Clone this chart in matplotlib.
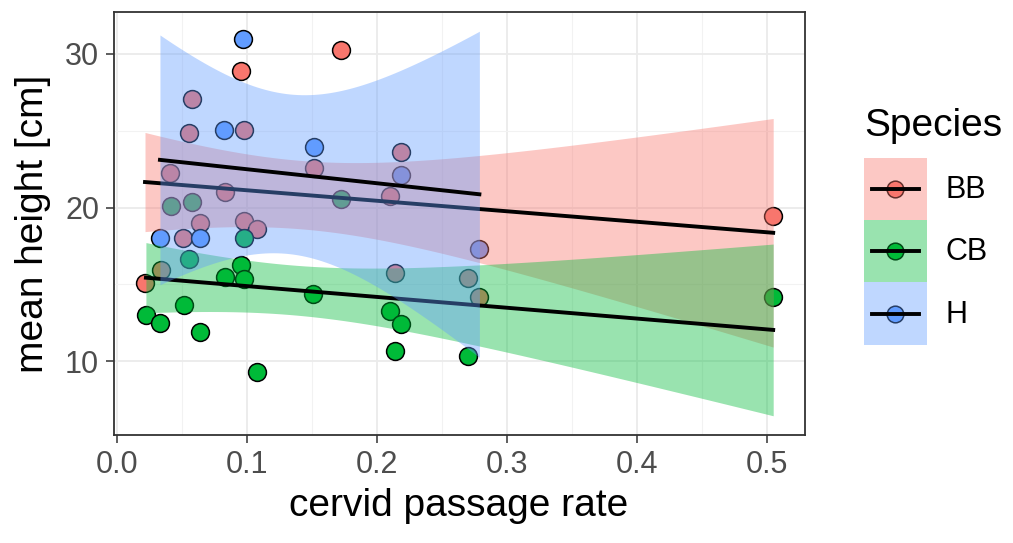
import numpy as np
import matplotlib.pyplot as plt
from matplotlib.patches import Patch, Rectangle
from matplotlib.lines import Line2D
from matplotlib.ticker import MultipleLocator, FormatStrFormatter

plt.rcParams['font.family'] = ['Liberation Sans', 'DejaVu Sans']

# data
species = ['BB', 'CB', 'H']
colors = ['#F8766D', '#00BA38', '#619CFF']

bb_x = [0.0954, 0.1725, 0.0582, 0.0559, 0.0979, 0.0410, 0.0833, 0.0640, 0.0979, 0.1077,
        0.0512, 0.0338, 0.0218, 0.1520, 0.2185, 0.2102, 0.2140, 0.2705, 0.2790, 0.5050]
bb_y = [28.86, 30.24, 27.08, 24.88, 25.05, 22.26, 21.00, 18.97, 19.14, 18.60,
        18.00, 15.95, 15.10, 22.58, 23.60, 20.75, 15.76, 15.40, 14.20, 19.46]

cb_x = [0.0415, 0.0582, 0.0980, 0.0559, 0.0833, 0.0954, 0.0980, 0.0520, 0.0225, 0.0333,
        0.0640, 0.1077, 0.1725, 0.1510, 0.2100, 0.2187, 0.2140, 0.2705, 0.5050]
cb_y = [20.10, 20.36, 18.00, 16.66, 15.48, 16.27, 15.33, 13.65, 13.00, 12.47,
        11.93, 9.30, 20.54, 14.34, 13.26, 12.42, 10.68, 10.32, 14.17]

h_x = [0.0974, 0.0825, 0.0333, 0.0640, 0.1518, 0.2185, 0.2790]
h_y = [30.95, 25.05, 18.00, 18.00, 23.97, 22.15, 17.30]

# 95% t quantiles for df = n - 2
t_crit = [2.101, 2.110, 2.571]

xs_all = [bb_x, cb_x, h_x]
ys_all = [bb_y, cb_y, h_y]


def lm_fit(x, y, t, n_out=80):
    x = np.asarray(x)
    y = np.asarray(y)
    n = len(x)
    X = np.column_stack([np.ones(n), x])
    beta = np.linalg.lstsq(X, y, rcond=None)[0]
    resid = y - X @ beta
    s2 = resid @ resid / (n - 2)
    cov = s2 * np.linalg.inv(X.T @ X)
    xs = np.linspace(x.min(), x.max(), n_out)
    Xs = np.column_stack([np.ones(n_out), xs])
    fit = Xs @ beta
    se = np.sqrt(np.einsum('ij,jk,ik->i', Xs, cov, Xs))
    return xs, fit, fit - t * se, fit + t * se


class SmoothKey:
    # ggplot-like key: point, then filled ribbon box, then black line
    def legend_artist(self, legend, orig_handle, fontsize, handlebox):
        c = orig_handle.get_facecolor()[:3]
        x0, y0 = -handlebox.xdescent, -handlebox.ydescent
        w, h = handlebox.width, handlebox.height
        tr = handlebox.get_transform()
        pt = Line2D([x0 + w / 2], [y0 + h / 2], marker='o', linestyle='none',
                    markersize=12, markerfacecolor=c, markeredgecolor='black',
                    markeredgewidth=1.1, transform=tr)
        box = Rectangle((x0, y0), w, h, facecolor=c, alpha=0.4,
                        edgecolor='none', transform=tr)
        ln = Line2D([x0 + 0.13 * w, x0 + 0.87 * w], [y0 + h / 2] * 2,
                    color='black', linewidth=2.8, transform=tr)
        handlebox.add_artist(pt)
        handlebox.add_artist(box)
        handlebox.add_artist(ln)
        return box


fig = plt.figure(figsize=(10.13, 5.43), dpi=100)
ax = fig.add_axes([113.6 / 1013, 108 / 543, 691 / 1013, 423 / 543])

# points first, smooths drawn over them (like ggplot layer order)
for x, y, c in zip(xs_all, ys_all, colors):
    ax.scatter(x, y, s=165, color=c, edgecolor='black', linewidth=1.1, zorder=3)

fits = []
for i, (x, y) in enumerate(zip(xs_all, ys_all)):
    xs, fit, lo, hi = lm_fit(x, y, t_crit[i])
    fits.append((lo, hi))
    ax.fill_between(xs, lo, hi, color=colors[i], alpha=0.4, linewidth=0, zorder=4 + 2 * i)
    ax.plot(xs, fit, color='black', linewidth=2.8, zorder=5 + 2 * i)

# limits with 5% expansion
allx = np.concatenate([np.asarray(v) for v in xs_all])
ally = np.concatenate([np.asarray(v) for v in ys_all] + [np.concatenate(f) for f in fits])
dx = allx.max() - allx.min()
dy = ally.max() - ally.min()
ax.set_xlim(allx.min() - 0.05 * dx, allx.max() + 0.05 * dx)
ax.set_ylim(ally.min() - 0.05 * dy, ally.max() + 0.05 * dy)

ax.xaxis.set_major_locator(MultipleLocator(0.1))
ax.xaxis.set_minor_locator(MultipleLocator(0.05))
ax.xaxis.set_major_formatter(FormatStrFormatter('%.1f'))
ax.yaxis.set_major_locator(MultipleLocator(10))
ax.yaxis.set_minor_locator(MultipleLocator(5))

ax.grid(which='major', color='#EBEBEB', linewidth=1.3, zorder=0)
ax.grid(which='minor', color='#F2F2F2', linewidth=0.8, zorder=0)
ax.set_axisbelow(True)
ax.tick_params(which='minor', length=0)
ax.tick_params(which='major', length=5.5, width=1.1, color='#333333',
               labelsize=22, labelcolor='#4D4D4D', pad=5)
for sp in ax.spines.values():
    sp.set_color('#333333')
    sp.set_linewidth(1.3)

ax.set_xlabel('cervid passage rate', fontsize=28, labelpad=6)
ax.set_ylabel('mean height [cm]', fontsize=28, labelpad=10)

# legend
fig.text(864 / 1013, 1 - 126 / 543, 'Species', fontsize=28, ha='left', va='center')
handles = [Patch(facecolor=c) for c in colors]
fig.legend(handles, species, loc='upper left',
           bbox_to_anchor=(864 / 1013, 1 - 158 / 543),
           handler_map={Patch: SmoothKey()},
           frameon=False, fontsize=22, borderpad=0, borderaxespad=0,
           handlelength=2.06, handleheight=2.755, labelspacing=0.0,
           handletextpad=0.6)

fig.savefig('out.png', dpi=100)
